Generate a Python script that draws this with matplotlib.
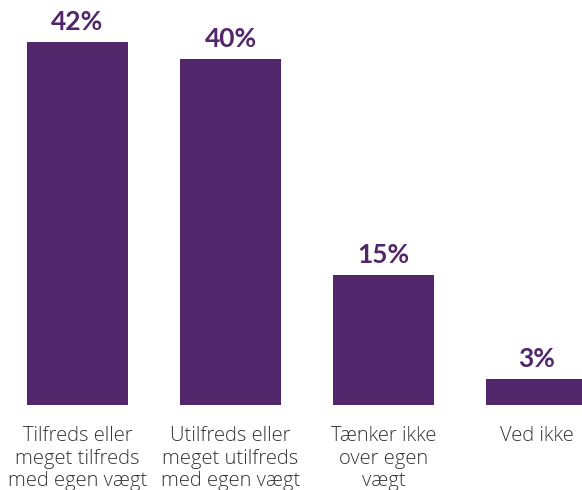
import matplotlib.pyplot as plt

# Andel der er tilfredse med egen vægt
categories = ["Tilfreds eller\nmeget tilfreds\nmed egen vægt",
              "Utilfreds eller\nmeget utilfreds\nmed egen vægt",
              "Tænker ikke\nover egen\nvægt",
              "Ved ikke"]
values = [42, 40, 15, 3]

purple = "#52266b"

fig = plt.figure(figsize=(5.82, 4.9), dpi=100)
# axes fill the width; baseline sits at 405 px from the top
ax = fig.add_axes([0, 85 / 490, 1, 405 / 490])

x = range(len(values))
bars = ax.bar(x, values, width=0.66, color=purple)

ax.set_xlim(-77.5 / 153, (582 - 77.5) / 153)
ax.set_ylim(0, 405 / 8.64)

for bar, v in zip(bars, values):
    ax.annotate(f"{v}%", (bar.get_x() + bar.get_width() / 2, v),
                xytext=(0, 6), textcoords="offset points",
                ha="center", va="bottom", color=purple,
                fontsize=19, fontweight="bold", family="Lato")

ax.set_xticks(list(x))
ax.set_xticklabels(categories, fontsize=14.5, color="#333333",
                   family="Open Sans", fontweight=300, linespacing=1.18)
ax.tick_params(axis="x", length=0, pad=15)
ax.set_yticks([])
for s in ax.spines.values():
    s.set_visible(False)

fig.savefig("out.png", dpi=100)
